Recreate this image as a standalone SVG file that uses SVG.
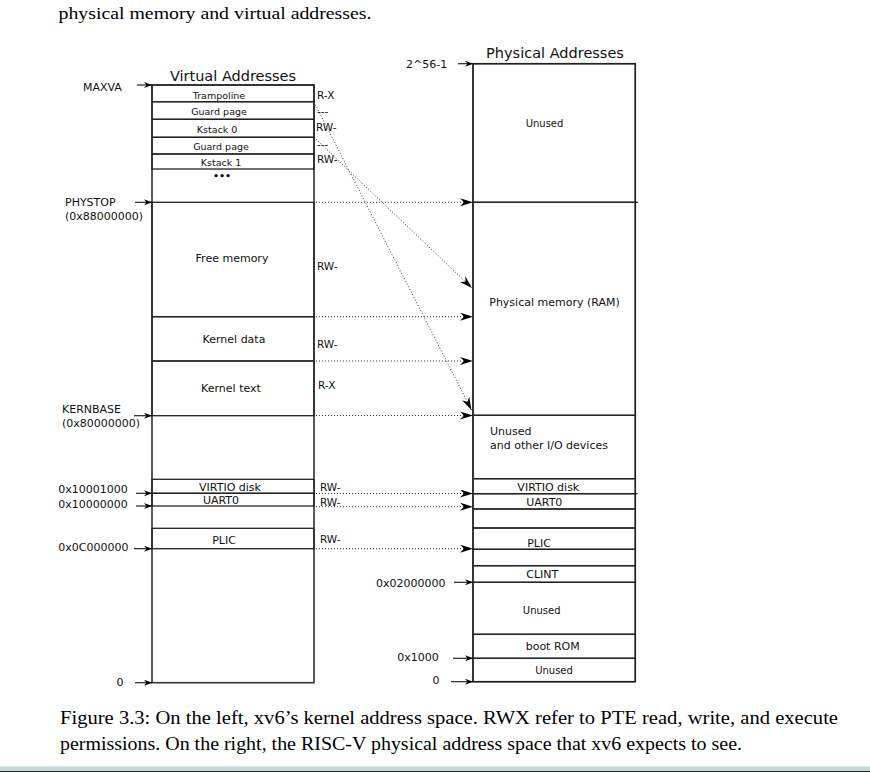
<svg xmlns="http://www.w3.org/2000/svg" width="870" height="772" viewBox="0 0 870 772">
<style>
  .bg { fill: #ffffff; }
  .cell { fill: none; stroke: #222; stroke-width: 1.3; }
  .box { fill: none; stroke: #333; stroke-width: 1.6; }
  .t { font-family: "DejaVu Sans", sans-serif; fill: #111; }
  .title { font-size: 14.5px; }
  .lbl { font-size: 11px; }
  .sm { font-size: 9.5px; }
  .un { font-size: 10px; }
  .perm { font-size: 10.5px; }
  .c { text-anchor: middle; }
  .serif { font-family: "Liberation Serif", "Times New Roman", serif; fill: #000; font-size: 17.5px; }
  .cap { font-size: 19.5px; }
  .dot { fill: none; stroke: #333; stroke-width: 1; stroke-dasharray: 1 2; }
  .ptr { fill: none; stroke: #222; stroke-width: 1.2; }
</style>
<defs>
  <marker id="big" viewBox="0 0 14 8" refX="13" refY="4" markerWidth="14" markerHeight="8" markerUnits="userSpaceOnUse" orient="auto">
    <path d="M0,0 L13,4 L0,8 L4,4 Z" fill="#000"/>
  </marker>
  <marker id="small" viewBox="0 0 8 6" refX="8" refY="3" markerWidth="8" markerHeight="6" markerUnits="userSpaceOnUse" orient="auto">
    <path d="M0,0 L8,3 L0,6 L2.5,3 Z" fill="#000"/>
  </marker>
</defs>
<rect class="bg" x="0" y="0" width="870" height="772"/>

<text class="serif" x="58.5" y="19" font-size="18" textLength="313" lengthAdjust="spacingAndGlyphs">physical memory and virtual addresses.</text>

<!-- Virtual address space -->
<g id="virtual">
  <text class="t title c" x="233" y="80.5">Virtual Addresses</text>
  <rect class="box" x="152" y="85" width="162" height="597.7"/>
  <g id="v-trampoline"><rect class="cell" x="152" y="85" width="162" height="16.7"/><text class="t sm c" x="219" y="98.5">Trampoline</text></g>
  <g id="v-guard0"><rect class="cell" x="152" y="101.7" width="162" height="17.6"/><text class="t sm c" x="219" y="115">Guard page</text></g>
  <g id="v-kstack0"><rect class="cell" x="152" y="119.3" width="162" height="18"/><text class="t sm c" x="217" y="132.5">Kstack 0</text></g>
  <g id="v-guard1"><rect class="cell" x="152" y="137.3" width="162" height="16.7"/><text class="t sm c" x="221" y="150">Guard page</text></g>
  <g id="v-kstack1"><rect class="cell" x="152" y="154" width="162" height="15"/><text class="t sm c" x="221" y="166">Kstack 1</text></g>
  <g id="v-more"><text class="t sm c" x="222" y="179" font-weight="bold">•••</text></g>
  <g id="v-free"><rect class="cell" x="152" y="202.3" width="162" height="114.4"/><text class="t lbl c" x="232" y="262">Free memory</text></g>
  <g id="v-kdata"><rect class="cell" x="152" y="316.7" width="162" height="44.3"/><text class="t lbl c" x="234" y="343">Kernel data</text></g>
  <g id="v-ktext"><rect class="cell" x="152" y="361" width="162" height="54.7"/><text class="t lbl c" x="231" y="392">Kernel text</text></g>
  <g id="v-virtio"><rect class="cell" x="152" y="479.3" width="162" height="14"/><text class="t lbl c" x="230" y="490.7">VIRTIO disk</text></g>
  <g id="v-uart"><rect class="cell" x="152" y="493.3" width="162" height="12.7"/><text class="t lbl c" x="221" y="504">UART0</text></g>
  <g id="v-plic"><rect class="cell" x="152" y="528.3" width="162" height="20.4"/><text class="t lbl c" x="224" y="544">PLIC</text></g>
</g>

<!-- Permission labels -->
<g id="perms">
  <text class="t perm" x="317" y="98.5">R-X</text>
  <text class="t perm" x="317" y="115">---</text>
  <text class="t perm" x="316" y="130.7">RW-</text>
  <text class="t perm" x="317" y="147.5">---</text>
  <text class="t perm" x="317" y="163.3">RW-</text>
  <text class="t perm" x="317" y="270">RW-</text>
  <text class="t perm" x="317" y="348">RW-</text>
  <text class="t perm" x="318" y="389">R-X</text>
  <text class="t perm" x="320" y="490.5">RW-</text>
  <text class="t perm" x="320" y="505.5">RW-</text>
  <text class="t perm" x="320" y="543.3">RW-</text>
</g>

<!-- Virtual address pointers -->
<g id="v-addrs">
  <text class="t lbl" x="83" y="91">MAXVA</text>
  <text class="t lbl" x="65" y="206">PHYSTOP</text>
  <text class="t lbl" x="65" y="219.5">(0x88000000)</text>
  <text class="t lbl" x="62" y="413.3">KERNBASE</text>
  <text class="t lbl" x="62" y="426.7">(0x80000000)</text>
  <text class="t lbl" x="58.3" y="492.7">0x10001000</text>
  <text class="t lbl" x="58.3" y="508.3">0x10000000</text>
  <text class="t lbl" x="58.3" y="551">0x0C000000</text>
  <text class="t lbl" x="116.5" y="686">0</text>
</g>

<!-- Physical address space -->
<g id="physical">
  <text class="t title c" x="555" y="58.3">Physical Addresses</text>
  <rect class="box" x="473" y="63.7" width="162.3" height="618"/>
  <g id="p-unused-top"><rect class="cell" x="473" y="63.7" width="162.3" height="138.6"/><text class="t un c" x="544.5" y="127">Unused</text></g>
  <g id="p-ram"><rect class="cell" x="473" y="202.3" width="162.3" height="213"/><line class="cell" x1="635" y1="202.3" x2="638" y2="202.3"/><text class="t lbl c" x="554.5" y="306">Physical memory (RAM)</text></g>
  <g id="p-io"><rect class="cell" x="473" y="415.3" width="162.3" height="63.4"/><text class="t lbl" x="490" y="435">Unused</text><text class="t lbl" x="490" y="448.5">and other I/O devices</text></g>
  <g id="p-virtio"><rect class="cell" x="473" y="478.7" width="162.3" height="15"/><line class="cell" x1="635" y1="493.7" x2="637.5" y2="493.7"/><text class="t lbl c" x="548.3" y="490.7">VIRTIO disk</text></g>
  <g id="p-uart"><rect class="cell" x="473" y="493.7" width="162.3" height="15.3"/><text class="t lbl c" x="544.3" y="506">UART0</text></g>
  <g id="p-gap1"><rect class="cell" x="473" y="509" width="162.3" height="19"/></g>
  <g id="p-plic"><rect class="cell" x="473" y="528" width="162.3" height="21.3"/><text class="t lbl c" x="539" y="546.7">PLIC</text></g>
  <g id="p-gap2"><rect class="cell" x="473" y="549.3" width="162.3" height="16.4"/></g>
  <g id="p-clint"><rect class="cell" x="473" y="565.7" width="162.3" height="16.6"/><text class="t lbl c" x="542.3" y="578.3">CLINT</text></g>
  <g id="p-unused-mid"><rect class="cell" x="473" y="582.3" width="162.3" height="52"/><text class="t un c" x="541.7" y="614">Unused</text></g>
  <g id="p-bootrom"><rect class="cell" x="473" y="634.3" width="162.3" height="24"/><text class="t lbl c" x="552.7" y="650">boot ROM</text></g>
  <g id="p-unused-bot"><rect class="cell" x="473" y="658.3" width="162.3" height="23.4"/><text class="t un c" x="554" y="674.3">Unused</text></g>
</g>

<!-- Physical address pointers -->
<g id="p-addrs">
  <text class="t lbl" x="406" y="68.3">2^56-1</text>
  <text class="t lbl" x="376" y="587.3">0x02000000</text>
  <text class="t lbl" x="397.3" y="660.5">0x1000</text>
  <text class="t lbl" x="432.5" y="683.5">0</text>
</g>

<!-- Connectors -->
<g id="connectors">
  <line class="ptr" x1="137" y1="85" x2="152" y2="85" marker-end="url(#small)"/>
  <line class="ptr" x1="135" y1="202.3" x2="152" y2="202.3" marker-end="url(#small)"/>
  <line class="ptr" x1="134" y1="415.7" x2="152" y2="415.7" marker-end="url(#small)"/>
  <line class="ptr" x1="136" y1="493.3" x2="152" y2="493.3" marker-end="url(#small)"/>
  <line class="ptr" x1="136" y1="506" x2="152" y2="506" marker-end="url(#small)"/>
  <line class="ptr" x1="134" y1="548.7" x2="152" y2="548.7" marker-end="url(#small)"/>
  <line class="ptr" x1="135" y1="682.7" x2="152" y2="682.7" marker-end="url(#small)"/>
  <line class="ptr" x1="458" y1="63.7" x2="473" y2="63.7" marker-end="url(#small)"/>
  <line class="ptr" x1="454" y1="582.3" x2="473" y2="582.3" marker-end="url(#small)"/>
  <line class="ptr" x1="453" y1="658.3" x2="473" y2="658.3" marker-end="url(#small)"/>
  <line class="ptr" x1="451" y1="681.7" x2="473" y2="681.7" marker-end="url(#small)"/>

  <line class="dot" x1="316" y1="202.3" x2="473" y2="202.3" marker-end="url(#big)"/>
  <line class="dot" x1="316" y1="316.7" x2="473" y2="316.7" marker-end="url(#big)"/>
  <line class="dot" x1="316" y1="361" x2="473" y2="361" marker-end="url(#big)"/>
  <line class="dot" x1="316" y1="415.5" x2="473" y2="415.5" marker-end="url(#big)"/>
  <line class="dot" x1="316" y1="493.5" x2="473" y2="493.5" marker-end="url(#big)"/>
  <line class="dot" x1="316" y1="506.7" x2="473" y2="506.7" marker-end="url(#big)"/>
  <line class="dot" x1="316" y1="548.7" x2="473" y2="548.7" marker-end="url(#big)"/>
  <line class="dot" x1="314" y1="102" x2="471.5" y2="410" marker-end="url(#big)"/>
  <line class="dot" x1="314" y1="137.3" x2="472" y2="288" marker-end="url(#big)"/>
</g>

<!-- Caption -->
<g id="caption">
  <text class="serif cap" x="60" y="724" textLength="778" lengthAdjust="spacingAndGlyphs">Figure 3.3: On the left, xv6’s kernel address space. RWX refer to PTE read, write, and execute</text>
  <text class="serif cap" x="60" y="750" textLength="682" lengthAdjust="spacingAndGlyphs">permissions. On the right, the RISC-V physical address space that xv6 expects to see.</text>
</g>

<rect x="0" y="766.5" width="870" height="4.5" fill="#c5dadc"/>
<rect x="0" y="771" width="870" height="1" fill="#222"/>
</svg>
